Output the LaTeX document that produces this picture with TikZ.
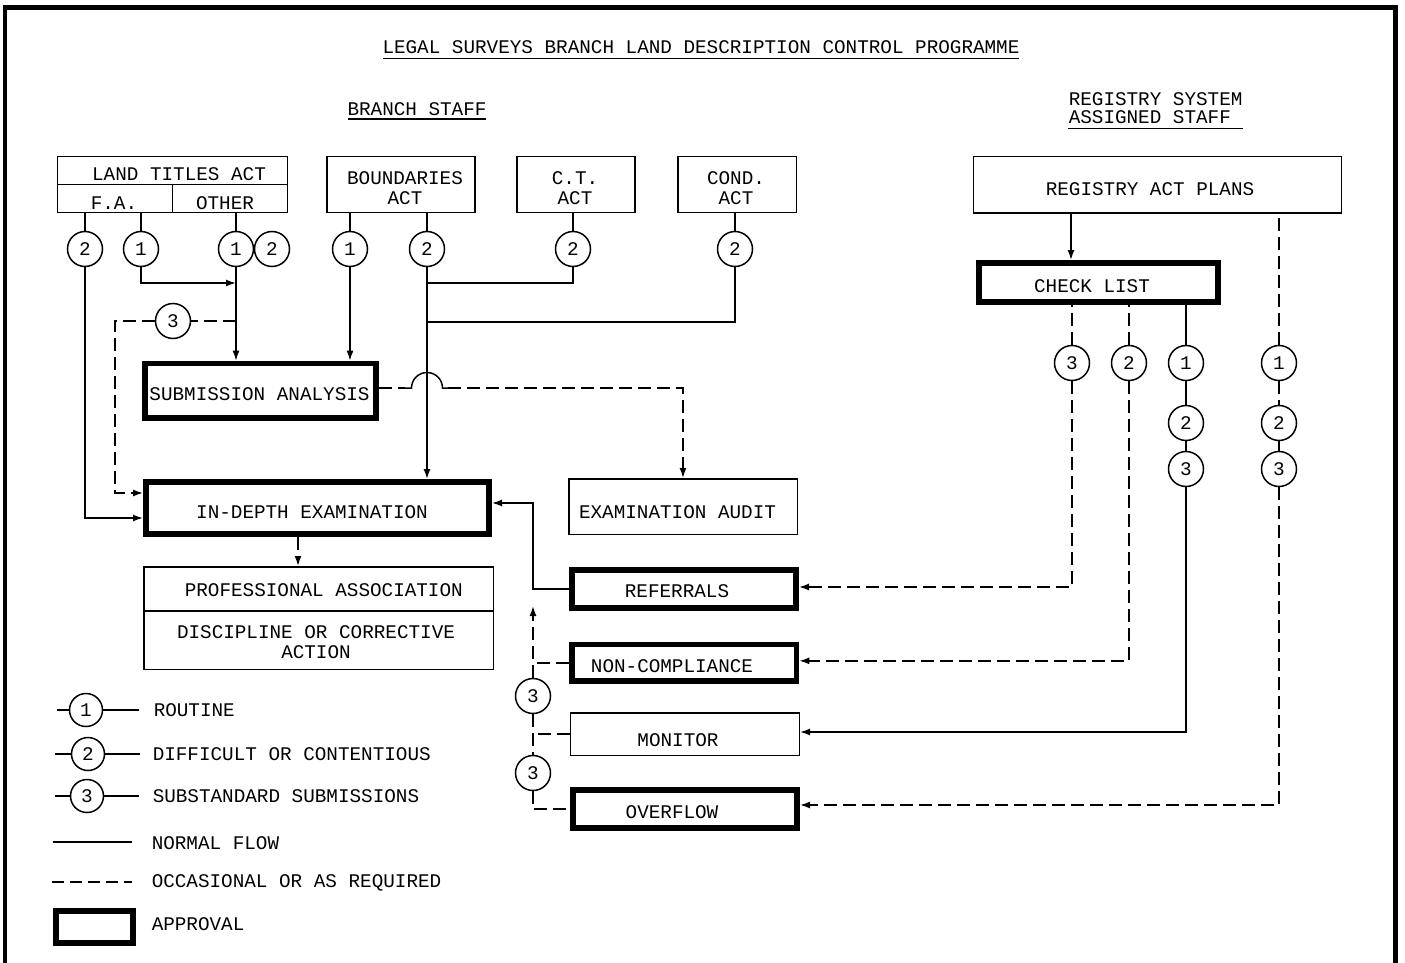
\documentclass[tikz,border=0pt]{standalone}
\usepackage{fontspec}
\setmonofont{Liberation Mono}
\usetikzlibrary{arrows.meta,calc}
\newcommand\tyfont{\ttfamily\fontsize{19.3}{19.4}\selectfont}
\begin{document}
\begin{tikzpicture}[x=1pt,y=-1pt,line width=1.5pt,
  txt/.style={font=\tyfont, inner sep=0pt},
  thinbox/.style={draw, rectangle, line width=1.5pt, inner sep=0pt},
  apbox/.style={draw, rectangle, line width=5.7pt, inner sep=0pt},
  circ/.style={draw, circle, line width=1.5pt, minimum size=35pt, inner sep=0pt, font=\tyfont},
  dsh/.style={dash pattern=on 13pt off 6pt},
  arr/.style={-{Latex[length=10pt,width=7pt]}}]
\useasboundingbox (0,0) rectangle (1405,963);
\fill[white] (0,0) rectangle (1405,963);
% frame
\draw[line width=4.5pt] (5,963) -- (5,7.5) -- (1395.5,7.5) -- (1395.5,963);

% headings
\node[txt] (title) at (701,47) {LEGAL SURVEYS BRANCH LAND DESCRIPTION CONTROL PROGRAMME};
\draw (383,58.5) -- (1019,58.5);
\node[txt] (bstaff) at (417,109) {BRANCH STAFF};
\draw (348,119) -- (486,119);
\node[txt, anchor=west] (rs1) at (1068,99.5) {REGISTRY SYSTEM};
\node[txt, anchor=west] (rs2) at (1068,117.5) {ASSIGNED STAFF};
\draw (1068,128.5) -- (1243,128.5);

% top boxes
\node[thinbox, minimum width=230pt, minimum height=56pt] (lta) at (172.5,184.5) {};
\draw (lta.west) -- (lta.east);
\draw (lta.center) -- (lta.south);
\node[txt] (lta-t) at (179,174) {LAND TITLES ACT};
\node[txt] (fa-t) at (114,203) {F.A.};
\node[txt] (oth-t) at (225,203) {OTHER};

\node[thinbox, minimum width=148pt, minimum height=56pt] (bnd) at (401,184.5) {};
\node[txt, align=center] (bnd-t) at (405,188) {BOUNDARIES\\ACT};
\node[thinbox, minimum width=118pt, minimum height=56pt] (ct) at (576,184.5) {};
\node[txt, align=center] (ct-t) at (575,188) {C.T.\\ACT};
\node[thinbox, minimum width=118.5pt, minimum height=56pt] (cond) at (737.25,184.5) {};
\node[txt, align=center] (cond-t) at (736,188) {COND.\\ACT};
\node[thinbox, minimum width=368pt, minimum height=56.5pt] (rap) at (1157.5,184.75) {};
\node[txt] (rap-t) at (1150,189) {REGISTRY ACT PLANS};

\node[apbox, minimum width=239.3pt, minimum height=39.3pt] (chk) at (1098.5,282.5) {};
\node[txt] (chk-t) at (1092,286) {CHECK LIST};

% main boxes
\node[apbox, minimum width=231pt, minimum height=54.3pt] (sub) at (260.65,390.7) {};
\node[txt] (sub-t) at (259.5,394.5) {SUBMISSION ANALYSIS};
\node[apbox, minimum width=343.3pt, minimum height=52.3pt] (ide) at (317.5,508) {};
\node[txt] (ide-t) at (312,511.7) {IN-DEPTH EXAMINATION};
\node[thinbox, minimum width=228.5pt, minimum height=55.5pt] (exa) at (683,506.5) {};
\node[txt] (exa-t) at (677.5,512.5) {EXAMINATION AUDIT};
\node[thinbox, minimum width=349.5pt, minimum height=102.5pt] (prof) at (318.5,618) {};
\draw ($(prof.west)+(0,-7)$) -- ($(prof.east)+(0,-7)$);
\node[txt] (prof-t) at (323.8,590) {PROFESSIONAL ASSOCIATION};
\node[txt, align=center] (disc-t) at (316,642) {DISCIPLINE OR CORRECTIVE\\ACTION};

\node[apbox, minimum width=224.3pt, minimum height=38.3pt] (ref) at (684,589) {};
\node[txt] (ref-t) at (677,590.7) {REFERRALS};
\node[apbox, minimum width=224.3pt, minimum height=36.6pt] (nc) at (684.3,662.85) {};
\node[txt] (nc-t) at (672,665.7) {NON-COMPLIANCE};
\node[thinbox, minimum width=229pt, minimum height=42.5pt] (mon) at (684.75,734) {};
\node[txt] (mon-t) at (678,740) {MONITOR};
\node[apbox, minimum width=224.3pt, minimum height=38.3pt] (ov) at (685,809) {};
\node[txt] (ov-t) at (672,812) {OVERFLOW};

% circles
\node[circ] (a2) at (85,249) {2};
\node[circ] (a1) at (141,249) {1};
\node[circ] (a1b) at (236,249) {1};
\node[circ] (a2b) at (272,249) {2};
\node[circ] (b1) at (350,249) {1};
\node[circ] (b2) at (427,249) {2};
\node[circ] (c2) at (573,249) {2};
\node[circ] (d2) at (735,249) {2};
\node[circ] (e3) at (173,321) {3};
\node[circ] (r3) at (1072,363) {3};
\node[circ] (r2) at (1129,363) {2};
\node[circ] (r1) at (1186,363) {1};
\node[circ] (r1b) at (1186,423) {2};
\node[circ] (r1c) at (1186,469) {3};
\node[circ] (s1) at (1279,363) {1};
\node[circ] (s2) at (1279,423) {2};
\node[circ] (s3) at (1279,469) {3};
\node[circ] (m3a) at (533,696) {3};
\node[circ] (m3b) at (533,773) {3};

% connectors left
\draw (a2.north) -- (a2 |- lta.south);
\draw[arr] (a2.south) |- ($(ide.west)+(0,10)$);
\draw (a1.north) -- (a1 |- lta.south);
\coordinate (j1) at (236,283);
\draw[arr] (a1.south) |- (j1);
\draw (a1b.north) -- (a1b |- lta.south);
\draw (a1b.east) -- (a2b.west);
\draw[arr] (a1b.south) -- (a1b |- sub.north);
\coordinate (j2) at (236,321);
\coordinate (k1) at (115,321);
\draw[dsh] (j2) -- (e3.east);
\draw[dsh,arr] (e3.west) -- (k1) |- ($(ide.west)+(0,-15)$);
\draw (b1.north) -- (b1 |- bnd.south);
\draw[arr] (b1.south) -- (b1 |- sub.north);
\draw (b2.north) -- (b2 |- bnd.south);
\draw[arr] (b2.south) -- (b2 |- ide.north);
\draw (c2.north) -- (c2 |- ct.south);
\coordinate (j3) at (427,283);
\draw (c2.south) |- (j3);
\draw (d2.north) -- (d2 |- cond.south);
\coordinate (j4) at (427,322);
\draw (d2.south) |- (j4);

% dashed with hop
\coordinate (h0) at (405,388);
\coordinate (h1) at (411.5,388);
\coordinate (h3) at (448,388);
\coordinate (h2) at (683,388);
\draw[dsh] ($(sub.east)+(0,-2.7)$) -- (h0);
\draw (h0) -- (h1) arc[start angle=180,end angle=0,radius=15.5pt] -- (h3);
\draw[dsh,arr] (h3) -- (h2) -- (h2 |- exa.north);

\coordinate (xp) at (298,0);
\draw[dsh,arr] (ide.south -| xp) -- (prof.north -| xp);

% feedback column
\coordinate (f1) at (533,589);
\draw[arr] (ref.west) -- (f1) |- ($(ide.east)+(0,-5)$);
\coordinate (f2) at (533,606);
\draw[dsh,arr] (m3a.north) -- (f2);
\draw[dsh] (nc.west) -- (nc.west -| m3a);
\draw[dsh] (m3a.south) -- (m3b.north);
\draw[dsh] (mon.west) -- (mon.west -| m3a);
\draw[dsh] (m3b.south) |- (ov.west);

% right side
\coordinate (xr) at (1071,0);
\draw[arr] (rap.south -| xr) -- (chk.north -| xr);
\draw[dsh] (r3.north) -- (r3 |- chk.south);
\draw[dsh,arr] (r3.south) |- ($(ref.east)+(0,-2)$);
\draw[dsh] (r2.north) -- (r2 |- chk.south);
\draw[dsh,arr] (r2.south) |- ($(nc.east)+(0,-2)$);
\draw (r1.north) -- (r1 |- chk.south);
\draw (r1.south) -- (r1b.north);
\draw (r1b.south) -- (r1c.north);
\draw[arr] (r1c.south) |- ($(mon.east)+(0,-2)$);
\draw[dsh] (s1.north) -- (s1 |- rap.south);
\draw[dsh] (s1.south) -- (s2.north);
\draw (s2.south) -- (s3.north);
\draw[dsh,arr] (s3.south) |- ($(ov.east)+(0,-4)$);

% legend
\node[circ, minimum size=33pt] (L1) at (86,710) {1};
\draw (L1.west) -- ++(-12,0);
\draw (L1.east) -- ++(36,0);
\node[txt, anchor=west] (L1-t) at (153,710) {ROUTINE};
\node[circ, minimum size=33pt] (L2) at (88,754) {2};
\draw (L2.west) -- ++(-16,0);
\draw (L2.east) -- ++(35,0);
\node[txt, anchor=west] (L2-t) at (152,754) {DIFFICULT OR CONTENTIOUS};
\node[circ, minimum size=33pt] (L3) at (87,796) {3};
\draw (L3.west) -- ++(-15,0);
\draw (L3.east) -- ++(35,0);
\node[txt, anchor=west] (L3-t) at (152,796) {SUBSTANDARD SUBMISSIONS};
\draw (53,842) -- (132,842);
\node[txt, anchor=west] (nf-t) at (151,843) {NORMAL FLOW};
\draw[dash pattern=on 12pt off 6pt] (52,882) -- (132,882);
\node[txt, anchor=west] (oc-t) at (151,883) {OCCASIONAL OR AS REQUIRED};
\node[apbox, minimum width=77.3pt, minimum height=32.3pt] (Lap) at (94.5,927) {};
\node[txt, anchor=west] (ap-t) at (151,924) {APPROVAL};
\end{tikzpicture}
\end{document}
